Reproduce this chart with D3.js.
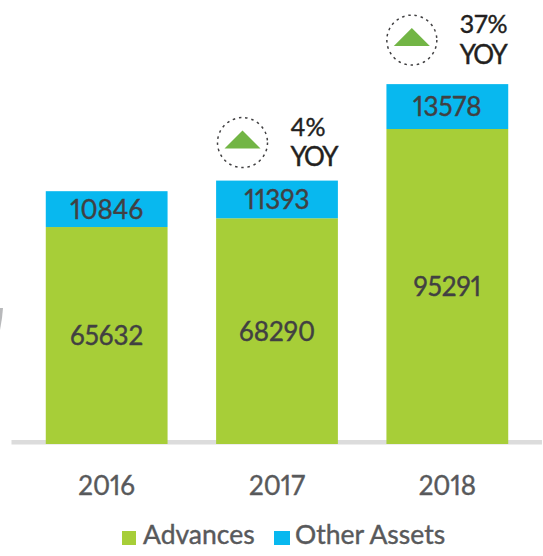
<!DOCTYPE html>
<html><head><meta charset="utf-8">
<script src="https://cdn.jsdelivr.net/npm/d3@7"></script>
<style>html,body{margin:0;padding:0;background:#fff}svg{display:block}text{font-family:Lato,sans-serif;font-variant-numeric:proportional-nums;font-feature-settings:"pnum";stroke-width:.4px;paint-order:stroke}</style>
</head><body><svg id="c" width="543" height="556"></svg>
<script>
const years=["2016","2017","2018"];
const advances=[65632,68290,95291];
const otherAssets=[10846,11393,13578];
const yoyLabels=[null,"4%","37%"];
const seriesNames=["Advances","Other Assets"];
const colors=["#a7ce38","#08b8ef"];

const svg=d3.select("#c");
const x=d3.scaleBand().domain(years).range([21.5,532.5]).paddingInner(0.285).paddingOuter(0.1425);
const y=d3.scaleLinear().domain([0,95291]).range([444,129]);

svg.append("path").attr("d","M0,308 L3,308 L2,318 L0,330 Z").attr("fill","#b8b9bb");
svg.append("rect").attr("x",11.5).attr("y",440).attr("width",530.5).attr("height",4.5).attr("fill","#dcdcdc");

const rows=years.map((yr,i)=>({yr,a:advances[i],o:otherAssets[i],yoy:yoyLabels[i],lift:[0,38,44][i],shift:[0,34.5,35.5][i]}));
const g=svg.selectAll("g.bar").data(rows).join("g").attr("class","bar");
g.append("rect").attr("x",d=>x(d.yr)).attr("width",x.bandwidth()).attr("y",d=>y(d.a)).attr("height",d=>y(0)-y(d.a)).attr("fill",colors[0]);
g.append("rect").attr("x",d=>x(d.yr)).attr("width",x.bandwidth()).attr("y",d=>y(d.a+d.o)).attr("height",d=>y(0)-y(d.o)).attr("fill",colors[1]);
const cx=d=>x(d.yr)+x.bandwidth()/2;
const label=(sel,c)=>sel.attr("text-anchor","middle").attr("font-size",26).attr("fill",c).attr("stroke",c);
g.append("text").call(label,"#414042").attr("x",cx).attr("y",d=>y(d.a/2)+9.5).text(d=>d.a);
g.append("text").call(label,"#414042").attr("x",cx).attr("y",d=>y(d.a+d.o/2)+9.5).text(d=>d.o);
g.append("text").call(label,"#58595b").attr("x",cx).attr("y",495).text(d=>d.yr);

const yoy=g.filter(d=>d.yoy).append("g").attr("transform",d=>`translate(${cx(d)-d.shift},${y(d.a+d.o)-d.lift})`);
yoy.append("circle").attr("r",25).attr("fill","none").attr("stroke","#414042").attr("stroke-width",1.5).attr("stroke-dasharray","2.5 3.8");
yoy.append("path").attr("d","M-18,6 L0,-12 L18,6 Z").attr("fill","#72b545");
yoy.append("text").attr("x",48).attr("y",-7).attr("font-size",25).attr("fill","#231f20").attr("stroke","#231f20").text(d=>d.yoy);
yoy.append("text").attr("x",48).attr("y",23.5).attr("font-size",26).attr("letter-spacing",-1.7).attr("fill","#231f20").attr("stroke","#231f20").text("YOY");

const lx=[122,274],tx=[143,295];
seriesNames.forEach((n,i)=>{
 svg.append("rect").attr("x",lx[i]).attr("y",531).attr("width",i?16:14).attr("height",14).attr("fill",colors[i]);
 svg.append("text").attr("x",tx[i]).attr("y",544).attr("font-size",26.5).attr("fill","#58595b").attr("stroke","#58595b").text(n);
});
</script></body></html>
